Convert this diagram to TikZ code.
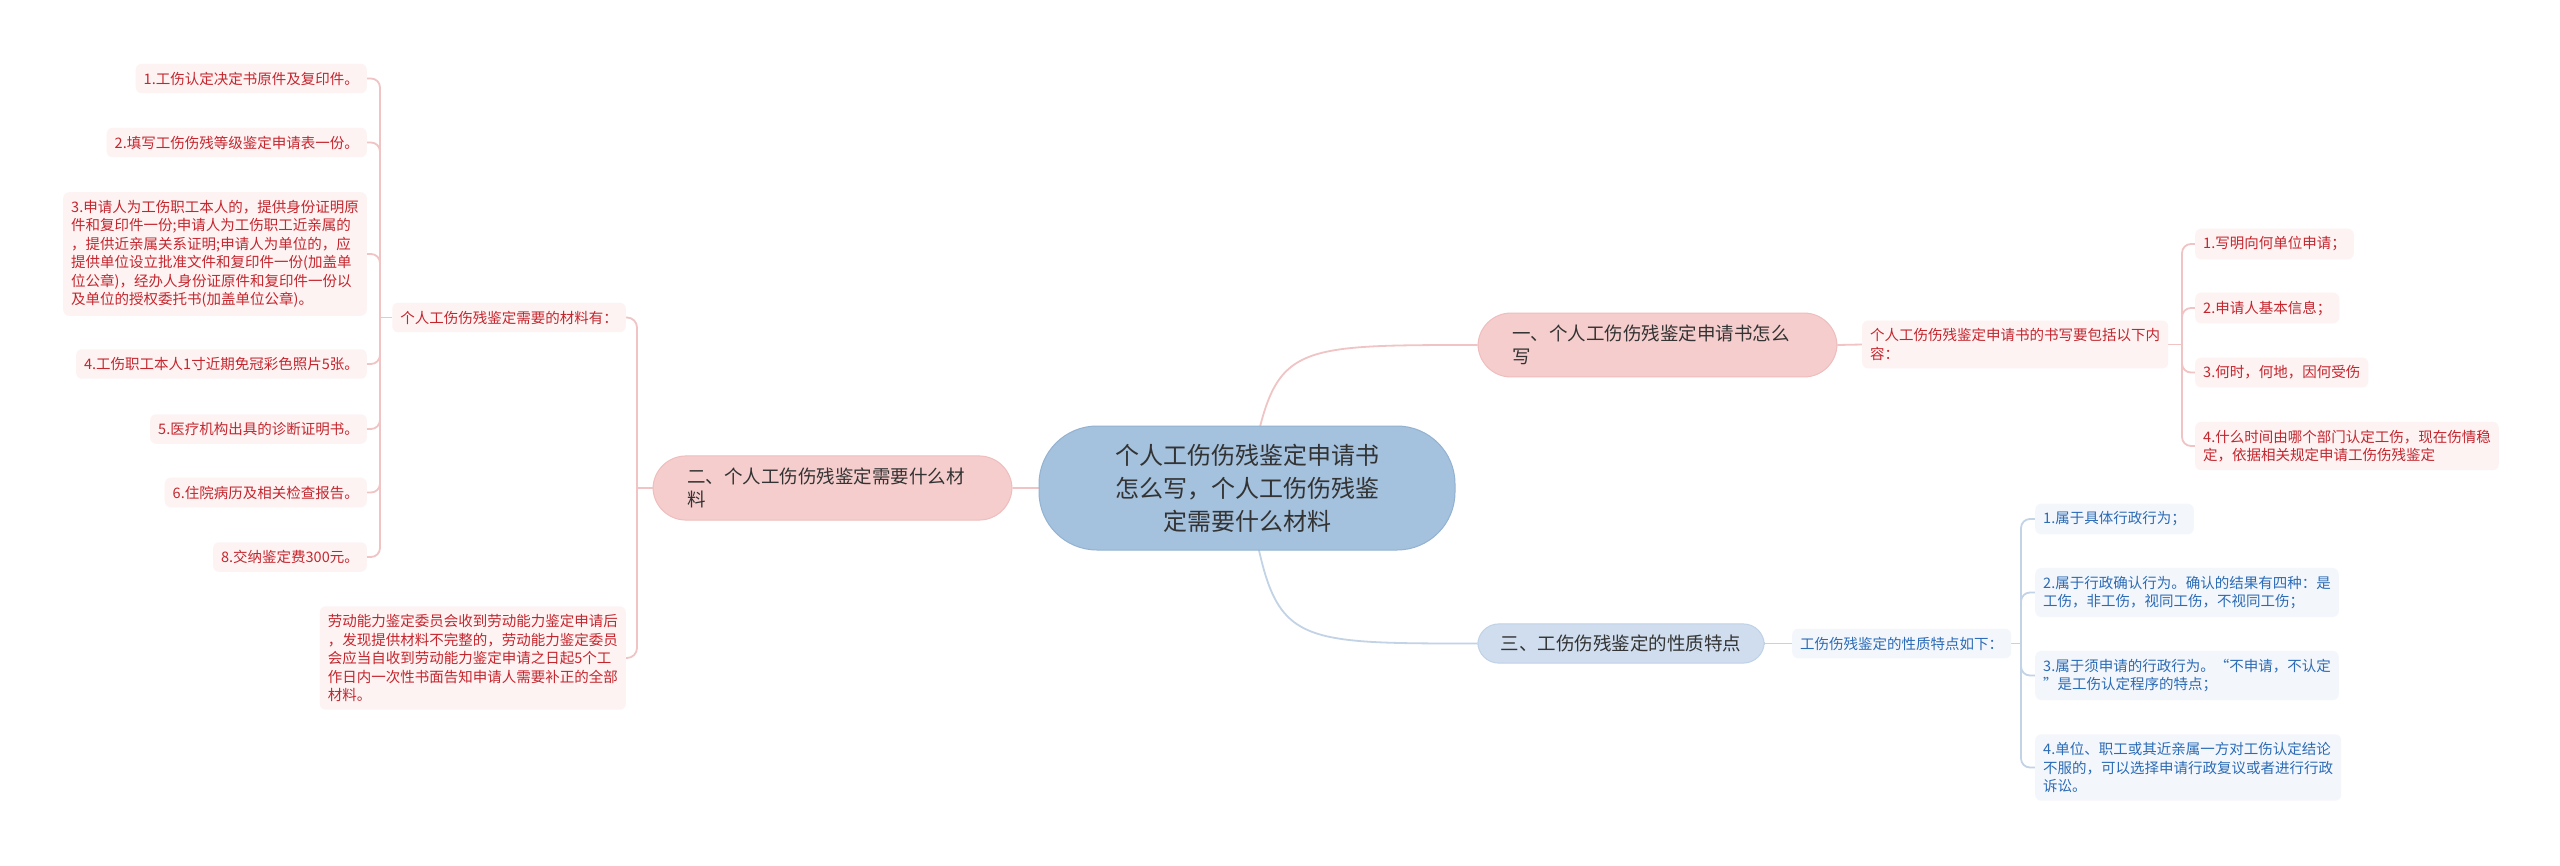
\documentclass[tikz,border=0pt]{standalone}
\usepackage{fontspec}
\setmainfont{Noto Sans CJK SC}
\usepackage{tikz}
\usetikzlibrary{backgrounds}

\definecolor{rootfill}{HTML}{A4C1DD}
\definecolor{rootborder}{HTML}{93B2D2}
\definecolor{redfill}{HTML}{F6CDCD}
\definecolor{redborder}{HTML}{EFBDBD}
\definecolor{redleaf}{HTML}{FDF3F3}
\definecolor{redtext}{HTML}{C4262E}
\definecolor{bluefill}{HTML}{CFDDEE}
\definecolor{blueborder}{HTML}{C0D2E6}
\definecolor{blueleaf}{HTML}{F3F7FC}
\definecolor{bluetext}{HTML}{2C6BB5}
\definecolor{redwire}{HTML}{F0C4C4}
\definecolor{bluewire}{HTML}{C3D3E6}
\definecolor{darktext}{HTML}{333333}

\begin{document}
\begin{tikzpicture}[x=1pt,y=-1pt]
	 \tikzstyle{rootnode}=[rectangle,rounded corners=58pt,fill=rootfill,draw=rootborder,line width=1pt,text=darktext,align=center,minimum width=416pt,minimum height=124pt,font=\fontsize{24}{33}\selectfont]
	 \tikzstyle{redtopic}=[rectangle,rounded corners=33pt,fill=redfill,draw=redborder,line width=1pt,text=darktext,align=left,inner xsep=34pt,inner ysep=12pt,font=\fontsize{18.5}{23}\selectfont]
	 \tikzstyle{bluetopic}=[rectangle,rounded corners=21pt,fill=bluefill,draw=blueborder,line width=1pt,text=darktext,align=left,inner xsep=23pt,inner ysep=11pt,font=\fontsize{18.5}{23}\selectfont]
	 \tikzstyle{redleafnode}=[rectangle,rounded corners=6pt,fill=redleaf,text=redtext,align=left,inner xsep=8pt,inner ysep=8pt,font=\fontsize{14.5}{18.5}\selectfont]
	 \tikzstyle{blueleafnode}=[rectangle,rounded corners=6pt,fill=blueleaf,text=bluetext,align=left,inner xsep=8pt,inner ysep=8pt,font=\fontsize{14.5}{18.5}\selectfont]
	 \tikzstyle{redwireline}=[draw,line width=1.8pt,redwire]
	 \tikzstyle{bluewireline}=[draw,line width=1.8pt,bluewire]

	 \useasboundingbox (0,0) rectangle (2560,865);

	 \node[rootnode] (root) at (1247,488) {个人工伤伤残鉴定申请书\\怎么写，个人工伤伤残鉴\\定需要什么材料};

	 \node[redtopic,text width=291pt] (b1) at (1657.5,345) {一、个人工伤伤残鉴定申请书怎么\\写};
	 \node[redtopic,text width=291pt] (b2) at (832.5,488) {二、个人工伤伤残鉴定需要什么材\\料};
	 \node[bluetopic] (b3) at (1621,643.5) {三、工伤伤残鉴定的性质特点};

	 % right, pink
	 \node[redleafnode,anchor=west] (s1) at (1862,344.5) {个人工伤伤残鉴定申请书的书写要包括以下内\\容：};
	 \node[redleafnode,anchor=west] (r1) at (2195,244) {1.写明向何单位申请；};
	 \node[redleafnode,anchor=west] (r2) at (2195,308) {2.申请人基本信息；};
	 \node[redleafnode,anchor=west] (r3) at (2195,372.5) {3.何时，何地，因何受伤};
	 \node[redleafnode,anchor=west] (r4) at (2195,446) {4.什么时间由哪个部门认定工伤，现在伤情稳\\定，依据相关规定申请工伤伤残鉴定};
	 \coordinate (sp1) at (2182,344.5);

	 % right, blue
	 \node[blueleafnode,anchor=west] (s3) at (1792,643.5) {工伤伤残鉴定的性质特点如下：};
	 \node[blueleafnode,anchor=west] (t1) at (2035,519) {1.属于具体行政行为；};
	 \node[blueleafnode,anchor=west] (t2) at (2035,592.5) {2.属于行政确认行为。确认的结果有四种：是\\工伤，非工伤，视同工伤，不视同工伤；};
	 \node[blueleafnode,anchor=west] (t3) at (2035,675.5) {3.属于须申请的行政行为。“不申请，不认定\\”是工伤认定程序的特点；};
	 \node[blueleafnode,anchor=west] (t4) at (2035,767.5) {4.单位、职工或其近亲属一方对工伤认定结论\\不服的，可以选择申请行政复议或者进行行政\\诉讼。};
	 \coordinate (sp3) at (2021,643.5);

	 % left, pink
	 \node[redleafnode,anchor=east] (s2) at (626,317.5) {个人工伤伤残鉴定需要的材料有：};
	 \node[redleafnode,anchor=east] (bt) at (626,658) {劳动能力鉴定委员会收到劳动能力鉴定申请后\\，发现提供材料不完整的，劳动能力鉴定委员\\会应当自收到劳动能力鉴定申请之日起5个工\\作日内一次性书面告知申请人需要补正的全部\\材料。};
	 \node[redleafnode,anchor=east] (l1) at (367,78.5) {1.工伤认定决定书原件及复印件。};
	 \node[redleafnode,anchor=east] (l2) at (367,142.5) {2.填写工伤伤残等级鉴定申请表一份。};
	 \node[redleafnode,anchor=east] (l3) at (367,254) {3.申请人为工伤职工本人的，提供身份证明原\\件和复印件一份;申请人为工伤职工近亲属的\\，提供近亲属关系证明;申请人为单位的，应\\提供单位设立批准文件和复印件一份(加盖单\\位公章)，经办人身份证原件和复印件一份以\\及单位的授权委托书(加盖单位公章)。};
	 \node[redleafnode,anchor=east] (l4) at (367,364) {4.工伤职工本人1寸近期免冠彩色照片5张。};
	 \node[redleafnode,anchor=east] (l5) at (367,429) {5.医疗机构出具的诊断证明书。};
	 \node[redleafnode,anchor=east] (l6) at (367,492.5) {6.住院病历及相关检查报告。};
	 \node[redleafnode,anchor=east] (l8) at (367,557) {8.交纳鉴定费300元。};
	 \coordinate (sp2) at (637,488);
	 \coordinate (spl) at (380,317.5);

	 \begin{scope}[on background layer]
	 \fill[white] (0,0) rectangle (2560,865);
	 \draw[redwireline] (root.center) .. controls (1275,345) .. (b1.west);
	 \draw[bluewireline] (root.center) .. controls (1275,643.5) .. (b3.west);
	 \draw[redwireline] (root.center) -- (b2.east);

	 \draw[redwireline] (b1.east) -- (s1.west);
	 \draw[redwireline] (s1.east) -- (sp1);
	 \foreach \n in {r1,r2,r3,r4}
	   \draw[redwireline,rounded corners=9pt] (sp1) |- (\n.west);

	 \draw[bluewireline] (b3.east) -- (s3.west);
	 \draw[bluewireline] (s3.east) -- (sp3);
	 \foreach \n in {t1,t2,t3,t4}
	   \draw[bluewireline,rounded corners=9pt] (sp3) |- (\n.west);

	 \draw[redwireline] (b2.west) -- (sp2);
	 \draw[redwireline,rounded corners=10pt] (sp2) |- (s2.east);
	 \draw[redwireline,rounded corners=10pt] (sp2) |- (bt.east);
	 \draw[redwireline] (s2.west) -- (spl);
	 \foreach \n in {l1,l2,l3,l4,l5,l6,l8}
	   \draw[redwireline,rounded corners=9pt] (spl) |- (\n.east);
	 \end{scope}
 \end{tikzpicture}
\end{document}
